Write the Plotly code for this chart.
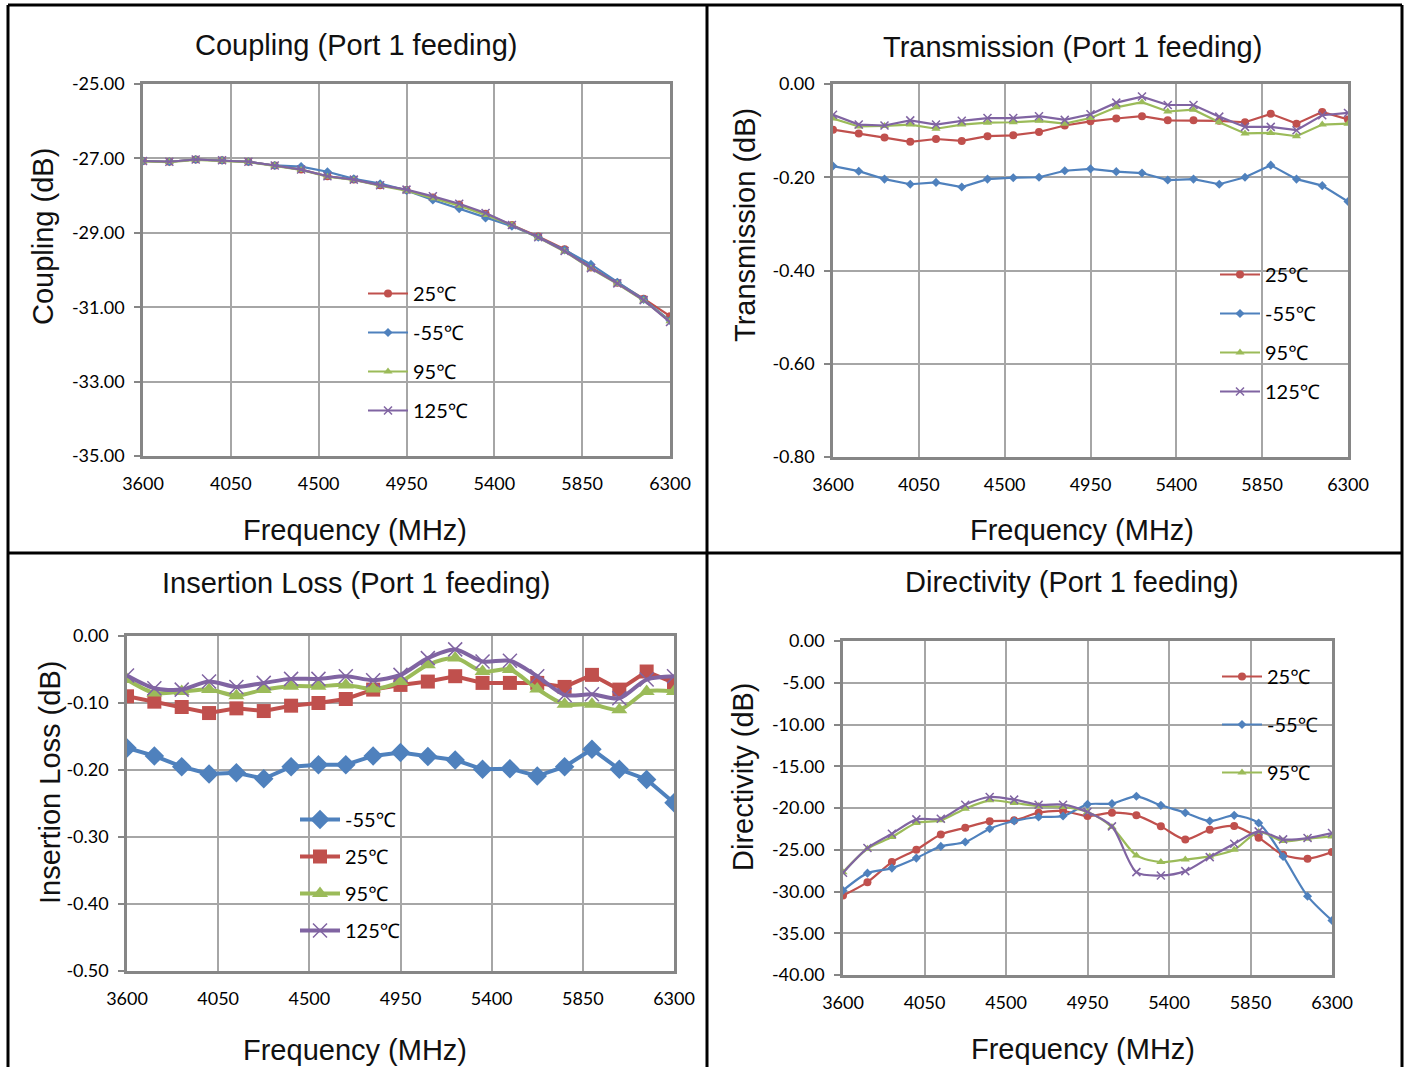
import plotly.graph_objects as go

W, H = 1406, 1067

# ---------------- data ----------------
freq = [3600 + 135 * i for i in range(21)]

coup_25 = [-27.07, -27.09, -27.03, -27.05, -27.09, -27.19, -27.30, -27.48, -27.57, -27.72, -27.85,
           -28.05, -28.24, -28.49, -28.79, -29.10, -29.44, -29.93, -30.34, -30.77, -31.24]
coup_m55 = [-27.07, -27.09, -27.03, -27.05, -27.09, -27.19, -27.22, -27.36, -27.55, -27.68, -27.86,
            -28.12, -28.35, -28.60, -28.82, -29.12, -29.46, -29.85, -30.33, -30.79, -31.36]
coup_95 = [-27.08, -27.10, -27.04, -27.06, -27.10, -27.20, -27.31, -27.49, -27.58, -27.73, -27.87,
           -28.07, -28.27, -28.52, -28.79, -29.13, -29.50, -29.96, -30.37, -30.82, -31.38]
coup_125 = [-27.07, -27.09, -27.03, -27.05, -27.09, -27.19, -27.30, -27.48, -27.57, -27.72, -27.84,
            -28.02, -28.22, -28.47, -28.79, -29.12, -29.49, -29.95, -30.36, -30.81, -31.40]

tr_25 = [-0.098, -0.106, -0.115, -0.124, -0.118, -0.122, -0.112, -0.110, -0.103, -0.089, -0.080,
         -0.074, -0.069, -0.078, -0.078, -0.079, -0.082, -0.064, -0.085, -0.060, -0.076]
tr_m55 = [-0.176, -0.187, -0.204, -0.215, -0.211, -0.221, -0.204, -0.201, -0.200, -0.186, -0.182,
          -0.188, -0.191, -0.206, -0.204, -0.215, -0.200, -0.174, -0.204, -0.218, -0.252]
tr_95 = [-0.074, -0.091, -0.090, -0.087, -0.096, -0.087, -0.083, -0.082, -0.079, -0.085, -0.073,
         -0.050, -0.039, -0.059, -0.055, -0.082, -0.106, -0.105, -0.112, -0.087, -0.085]
tr_125 = [-0.066, -0.087, -0.089, -0.078, -0.087, -0.079, -0.073, -0.073, -0.069, -0.077, -0.065,
          -0.040, -0.027, -0.045, -0.045, -0.070, -0.092, -0.092, -0.099, -0.067, -0.062]

il_m55 = [-0.167, -0.179, -0.195, -0.206, -0.204, -0.213, -0.195, -0.192, -0.192, -0.179, -0.174,
          -0.180, -0.185, -0.199, -0.198, -0.209, -0.195, -0.169, -0.199, -0.214, -0.249]
il_25 = [-0.090, -0.098, -0.106, -0.115, -0.108, -0.112, -0.104, -0.100, -0.094, -0.080, -0.073,
         -0.068, -0.060, -0.070, -0.070, -0.070, -0.076, -0.058, -0.080, -0.053, -0.070]
il_95 = [-0.065, -0.085, -0.083, -0.080, -0.089, -0.080, -0.075, -0.075, -0.073, -0.079, -0.068,
         -0.043, -0.033, -0.053, -0.050, -0.079, -0.102, -0.102, -0.110, -0.083, -0.083]
il_125 = [-0.059, -0.078, -0.080, -0.068, -0.076, -0.070, -0.064, -0.064, -0.060, -0.066, -0.058,
          -0.033, -0.020, -0.038, -0.037, -0.060, -0.088, -0.087, -0.093, -0.065, -0.060]

dir_25 = [-30.48, -28.88, -26.48, -25.00, -23.16, -22.36, -21.60, -21.48, -20.56, -20.36, -20.96,
          -20.56, -20.88, -22.20, -23.76, -22.60, -22.16, -23.56, -25.60, -26.08, -25.28]
dir_m55 = [-29.88, -27.80, -27.20, -26.00, -24.60, -24.08, -22.48, -21.56, -21.08, -20.96, -19.56,
           -19.48, -18.60, -19.68, -20.56, -21.56, -20.88, -21.80, -25.80, -30.56, -33.48]
dir_95 = [-27.68, -24.88, -23.48, -21.80, -21.48, -20.08, -19.08, -19.40, -19.76, -19.88, -20.48,
          -22.28, -25.68, -26.48, -26.16, -25.80, -25.00, -22.88, -23.96, -23.68, -23.40]
dir_125 = [-27.76, -24.80, -23.08, -21.36, -21.28, -19.60, -18.68, -19.00, -19.60, -19.60, -20.48,
           -22.20, -27.68, -28.08, -27.56, -25.88, -24.28, -22.80, -23.76, -23.60, -23.00]

# tick values / labels
x_ticks = [3600, 4050, 4500, 4950, 5400, 5850, 6300]
x_ticklabels = ["3600", "4050", "4500", "4950", "5400", "5850", "6300"]
coup_ticks = [-35, -33, -31, -29, -27, -25]
coup_ticklabels = ["-35.00", "-33.00", "-31.00", "-29.00", "-27.00", "-25.00"]
tr_ticks = [-0.8, -0.6, -0.4, -0.2, 0.0]
tr_ticklabels = ["-0.80", "-0.60", "-0.40", "-0.20", "0.00"]
il_ticks = [-0.5, -0.4, -0.3, -0.2, -0.1, 0.0]
il_ticklabels = ["-0.50", "-0.40", "-0.30", "-0.20", "-0.10", "0.00"]
dir_ticks = [-40, -35, -30, -25, -20, -15, -10, -5, 0]
dir_ticklabels = ["-40.00", "-35.00", "-30.00", "-25.00", "-20.00", "-15.00", "-10.00", "-5.00", "0.00"]

labels = {"25": "25℃", "m55": "-55℃", "95": "95℃", "125": "125℃"}
titles = ["Coupling (Port 1 feeding)", "Transmission (Port 1 feeding)",
          "Insertion Loss (Port 1 feeding)", "Directivity (Port 1 feeding)"]
ytitles = ["Coupling (dB)", "Transmission (dB)", "Insertion Loss (dB)", "Directivity (dB)"]
xtitle = "Frequency (MHz)"

# ---------------- style ----------------
RED, BLUE, GREEN, PURPLE = "#C0504D", "#4F81BD", "#9BBB59", "#8064A2"
col = {"25": RED, "m55": BLUE, "95": GREEN, "125": PURPLE}
sym_small = {"25": "circle", "m55": "diamond", "95": "triangle-up", "125": "x-thin"}
sym_big = {"25": "square", "m55": "diamond", "95": "triangle-up", "125": "x-thin"}

TICKFONT = dict(family="Lato, Noto Sans, sans-serif", size=18, color="#000")
LEGFONT = dict(family="Lato, Noto Sans, sans-serif", size=20, color="#000")
TITLEFONT = dict(family="Liberation Sans, Arial, sans-serif", size=29, color="#111")

# plot areas in pixels (x0, x1, y0, y1)
areas = [(143, 670, 84, 456), (833, 1348, 84, 457), (127, 674, 636, 971), (843, 1332, 641, 975)]
yaxes = [((-35, -25), coup_ticks, coup_ticklabels), ((-0.8, 0), tr_ticks, tr_ticklabels),
         ((-0.5, 0), il_ticks, il_ticklabels), ((-40, 0), dir_ticks, dir_ticklabels)]

fig = go.Figure()


def add(panel, key, y, big=False, spline=False, showleg=True):
    ax = "" if panel == 0 else str(panel + 1)
    c = col[key]
    if big:
        s = sym_big[key]
        size = {"25": 14, "m55": 15, "95": 14, "125": 14}[key]
        lw = 4
    else:
        s = sym_small[key]
        size = {"25": 8, "m55": 7, "95": 8, "125": 8}[key]
        lw = 2.2
    marker = dict(symbol=s, size=size, color=c)
    if s == "x-thin":
        marker["line"] = dict(color=c, width=1.5)
    fig.add_trace(go.Scatter(
        x=freq, y=y, mode="lines+markers", name=labels[key],
        line=dict(color=c, width=lw, shape="spline" if spline else "linear", smoothing=0.8),
        marker=marker, xaxis="x" + ax, yaxis="y" + ax,
        legend="legend" if panel == 0 else "legend" + str(panel + 1),
        legendgroup=f"p{panel}{key}", showlegend=showleg,
    ))


for k, y in [("25", coup_25), ("m55", coup_m55), ("95", coup_95), ("125", coup_125)]:
    add(0, k, y)
for k, y in [("25", tr_25), ("m55", tr_m55), ("95", tr_95), ("125", tr_125)]:
    add(1, k, y)
for k, y in [("m55", il_m55), ("25", il_25), ("95", il_95), ("125", il_125)]:
    add(2, k, y, big=True, spline=(k in ("95", "125")))
for k, y in [("25", dir_25), ("m55", dir_m55), ("95", dir_95), ("125", dir_125)]:
    add(3, k, y, spline=True, showleg=(k != "125"))

layout = dict(width=W, height=H, margin=dict(l=0, r=0, t=0, b=0, pad=0, autoexpand=False),
              autosize=False, paper_bgcolor="white", plot_bgcolor="white", showlegend=True)

for i, (x0, x1, y0, y1) in enumerate(areas):
    ax = "" if i == 0 else str(i + 1)
    yr, yt, ytl = yaxes[i]
    layout["xaxis" + ax] = dict(
        domain=[x0 / W, x1 / W], range=[3600, 6300], tickmode="array",
        tickvals=x_ticks, ticktext=x_ticklabels, automargin=False,
        anchor="y" + ax, showgrid=True, gridcolor="#A6A6A6", gridwidth=1.5,
        showline=True, linecolor="#868686", linewidth=2.5, mirror=True,
        ticks="", tickfont=TICKFONT, ticklabelstandoff=10, zeroline=False, fixedrange=True)
    layout["yaxis" + ax] = dict(
        domain=[1 - y1 / H, 1 - y0 / H], range=list(yr), tickmode="array",
        tickvals=yt, ticktext=ytl, automargin=False,
        anchor="x" + ax, showgrid=True, gridcolor="#A6A6A6", gridwidth=1.5,
        showline=True, linecolor="#868686", linewidth=2.5, mirror=True,
        ticks="outside", ticklen=6, tickcolor="#868686", tickwidth=2,
        tickfont=TICKFONT, ticklabelstandoff=6, zeroline=False, fixedrange=True)

# legends
leg_pos = [(363, 274, 10), (1215, 255, 10), (295, 800, 8), (1217, 657, 19)]
for i, (lx, ly, gap) in enumerate(leg_pos):
    name = "legend" if i == 0 else "legend" + str(i + 1)
    layout[name] = dict(x=lx / W, y=1 - ly / H, xanchor="left", yanchor="top",
                        bgcolor="rgba(0,0,0,0)", font=LEGFONT, tracegroupgap=gap,
                        itemwidth=40, borderwidth=0)

ann = []
tpos = [(356, 45), (1072, 47), (356, 583), (1072, 582)]
for t, (tx, ty) in zip(titles, tpos):
    ann.append(dict(text=t, x=tx / W, y=1 - ty / H, xref="paper", yref="paper",
                    showarrow=False, font=TITLEFONT, xanchor="center", yanchor="middle"))
ypos = [(43, 237), (745, 225), (50, 783), (743, 777)]
for t, (tx, ty) in zip(ytitles, ypos):
    ann.append(dict(text=t, x=tx / W, y=1 - ty / H, xref="paper", yref="paper", textangle=-90,
                    showarrow=False, font=TITLEFONT, xanchor="center", yanchor="middle"))
xpos = [(355, 530), (1082, 530), (355, 1050), (1083, 1049)]
for tx, ty in xpos:
    ann.append(dict(text=xtitle, x=tx / W, y=1 - ty / H, xref="paper", yref="paper",
                    showarrow=False, font=TITLEFONT, xanchor="center", yanchor="middle"))
layout["annotations"] = ann


def pline(x0, y0, x1, y1):
    return dict(type="line", xref="paper", yref="paper", x0=x0 / W, x1=x1 / W,
                y0=1 - y0 / H, y1=1 - y1 / H, line=dict(color="black", width=3), layer="above")


layout["shapes"] = [pline(8, 5, 1402, 5), pline(8, 5, 8, 1067), pline(1402, 5, 1402, 1067),
                    pline(707, 5, 707, 1067), pline(8, 553, 1402, 553)]

fig.update_layout(**layout)
fig.write_html("out.html", config={"displayModeBar": False},
               post_script="document.body.style.margin='0';document.body.style.padding='0';"
                           "document.body.style.overflow='hidden';")
